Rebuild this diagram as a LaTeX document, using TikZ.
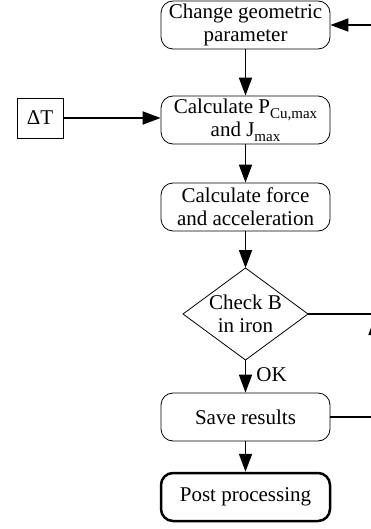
\documentclass[tikz,border=0pt]{standalone}
\usepackage{fontspec}
\setmainfont{Liberation Serif}
\usetikzlibrary{arrows.meta}
\newcommand\subx[1]{\raisebox{-5pt}{\fontsize{15}{16}\selectfont #1}}
\begin{document}
\begin{tikzpicture}[x=1pt,y=-1pt,
  txt/.style={font=\fontsize{21}{23}\selectfont, align=center},
  proc/.style={txt, draw, line width=0.8pt, rounded corners=12pt, minimum width=169pt, minimum height=48pt, inner sep=0pt},
  term/.style={proc, line width=2.5pt},
  sq/.style={txt, draw, line width=0.8pt, minimum width=46pt, minimum height=40pt, inner sep=0pt},
  flow/.style={line width=1.8pt, -{Triangle[length=18pt,width=13pt]}},
  wire/.style={line width=1.2pt}]
\useasboundingbox (0,0) rectangle (371,529);
\clip (0,0) rectangle (371,529);
\node[proc] (chg) at (245.5,25) {Change geometric\\parameter};
\node[proc] (calc) at (245.5,120) {Calculate P\subx{Cu,max}\\and J\subx{max}};
\node[sq] (dT) at (40,118) {ΔT};
\node[proc] (force) at (245.5,207) {Calculate force\\and acceleration};
\node[txt] (chk) at (245.5,314) {Check B\\in iron};
\coordinate (chkT) at (245.5,268);
\coordinate (chkR) at (308,314);
\coordinate (chkB) at (245.5,360);
\coordinate (chkL) at (183,314);
\draw[line width=0.8pt] (chkT) -- (chkR) -- (chkB) -- (chkL) -- cycle;
\node[proc] (save) at (245.5,417) {Save results};
\node[term] (post) at (245.5,497) {Post processing};
\coordinate (rt) at (375,25);
\coordinate (rm) at (375,314);
\coordinate (rb) at (375,417);
\coordinate (rj) at (375,317);
\draw[flow] (chg.south) -- (calc.north);
\draw[flow] (dT.east) -- (dT.east -| calc.west);
\draw[flow] (calc.south) -- (force.north);
\draw[flow] (force.south) -- (chkT);
\draw[flow] (chkB) -- node[txt, right, pos=0.45, inner sep=10pt] (ok) {OK} (save.north);
\draw[flow] (save.south) -- (post.north);
\draw[flow] (rt) -- (chg.east);
\draw[wire] (chkR) -- (rm);
\draw[wire] (save.east) -- (rb);
\draw[flow] (rb) -- (rj);
\draw[wire] (rm) -- (rt);
\end{tikzpicture}
\end{document}
